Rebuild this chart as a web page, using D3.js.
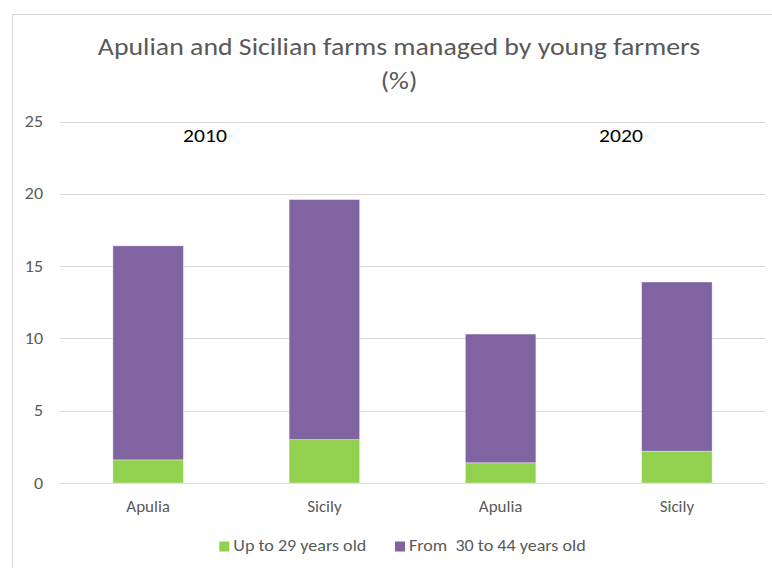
<!DOCTYPE html>
<html>
<head>
<meta charset="utf-8">
<script src="https://cdn.jsdelivr.net/npm/d3@7"></script>
<style>
  html, body { margin: 0; padding: 0; background: #fff; }
  svg { display: block; font-family: Carlito, Lato, "Open Sans", sans-serif; }
</style>
</head>
<body>
<svg id="chart" width="772" height="568"></svg>
<script>
const regions = ["Apulia", "Sicily", "Apulia", "Sicily"];
const years = ["2010", "2010", "2020", "2020"];
const upTo29 = [1.6, 3.0, 1.4, 2.2];
const from30to44 = [14.8, 16.6, 8.9, 11.7];
const yTicks = [0, 5, 10, 15, 20, 25];
const seriesNames = ["Up to 29 years old", "From  30 to 44 years old"];
const seriesColors = ["#92D050", "#8064A2"];
const titleLines = ["Apulian and Sicilian farms managed by young farmers", "(%)"];
const yearLabels = ["2010", "2020"];

const svg = d3.select("#chart");
const plot = { left: 60, right: 765, top: 121.5, bottom: 483 };

// helper: horizontally stretched text (reference glyphs are wider than Lato)
function stretchedText(parent, txt, x, y, size, sx, anchor, fill) {
  return parent.append("text")
    .attr("transform", `translate(${x},${y}) scale(${sx},1)`)
    .attr("text-anchor", anchor)
    .attr("font-size", size)
    .attr("fill", fill)
    .attr("xml:space", "preserve").style("white-space", "pre")
    .text(txt);
}

// chart border
svg.append("rect")
  .attr("x", 12.5).attr("y", 14.5)
  .attr("width", 800).attr("height", 600)
  .attr("fill", "#fff").attr("stroke", "#d9d9d9").attr("stroke-width", 1);

// title
stretchedText(svg, titleLines[0], 399, 54.5, 24.5, 1.135, "middle", "#595959");
stretchedText(svg, titleLines[1], 399, 88.5, 24.5, 1.135, "middle", "#595959");

const idx = regions.map((d, i) => i);
const x = d3.scaleBand().domain(idx).range([plot.left, plot.right])
  .paddingInner(0.6).paddingOuter(0.3);
const y = d3.scaleLinear().domain([0, 25]).range([plot.bottom, plot.top]);

// gridlines
svg.append("g").selectAll("line").data(yTicks).join("line")
  .attr("x1", plot.left).attr("x2", plot.right)
  .attr("y1", d => Math.round(y(d)) + 0.5).attr("y2", d => Math.round(y(d)) + 0.5)
  .attr("stroke", "#d9d9d9").attr("stroke-width", 1);

// y axis labels
const yAxis = d3.axisLeft(y).tickValues(yTicks).tickSize(0).tickPadding(0);
const gy = svg.append("g").attr("transform", `translate(${plot.left - 17},0)`).call(yAxis);
gy.select(".domain").remove();
gy.selectAll("text").attr("font-size", 16).attr("fill", "#595959")
  .attr("transform", "scale(1.12,1)")
  .attr("font-family", "Carlito, Lato, sans-serif");

// stacked data
const data = idx.map(i => ({ i, a: upTo29[i], b: from30to44[i] }));
const stack = d3.stack().keys(["a", "b"])(data);

svg.append("g").selectAll("g").data(stack).join("g")
  .attr("fill", (d, k) => seriesColors[k])
  .selectAll("rect").data(d => d).join("rect")
  .attr("x", d => x(d.data.i))
  .attr("width", x.bandwidth())
  .attr("y", d => y(d[1]))
  .attr("height", d => y(d[0]) - y(d[1]))
  .attr("stroke", "rgba(255,255,255,0.45)").attr("stroke-width", 0.8);

// x axis labels
const xAxis = d3.axisBottom(x).tickFormat(i => regions[i]).tickSize(0).tickPadding(0);
const gx = svg.append("g").attr("transform", `translate(0,${plot.bottom})`).call(xAxis);
gx.select(".domain").remove();
gx.selectAll("text").attr("font-size", 17).attr("fill", "#595959")
  .attr("y", 29).attr("dy", 0)
  .attr("transform", "scale(1.04,1)")
  .attr("font-family", "Carlito, Lato, sans-serif");
gx.selectAll(".tick").each(function () {
  // keep scaling centered on each tick
  const t = d3.select(this);
  t.select("text").attr("transform", null).attr("textLength", null);
});

// year annotations
const yearX = [205, 621];
yearLabels.forEach((t, i) => stretchedText(svg, t, yearX[i], 141.7, 18, 1.2, "middle", "#000"));

// legend
const legendX = [219.3, 395];
const lg = svg.append("g");
seriesNames.forEach((name, k) => {
  lg.append("rect").attr("x", legendX[k]).attr("y", 541.5).attr("width", 10).attr("height", 10)
    .attr("fill", seriesColors[k]);
  stretchedText(lg, name, legendX[k] + 14, 551, 16, 1.13, "start", "#595959");
});
</script>
</body>
</html>
